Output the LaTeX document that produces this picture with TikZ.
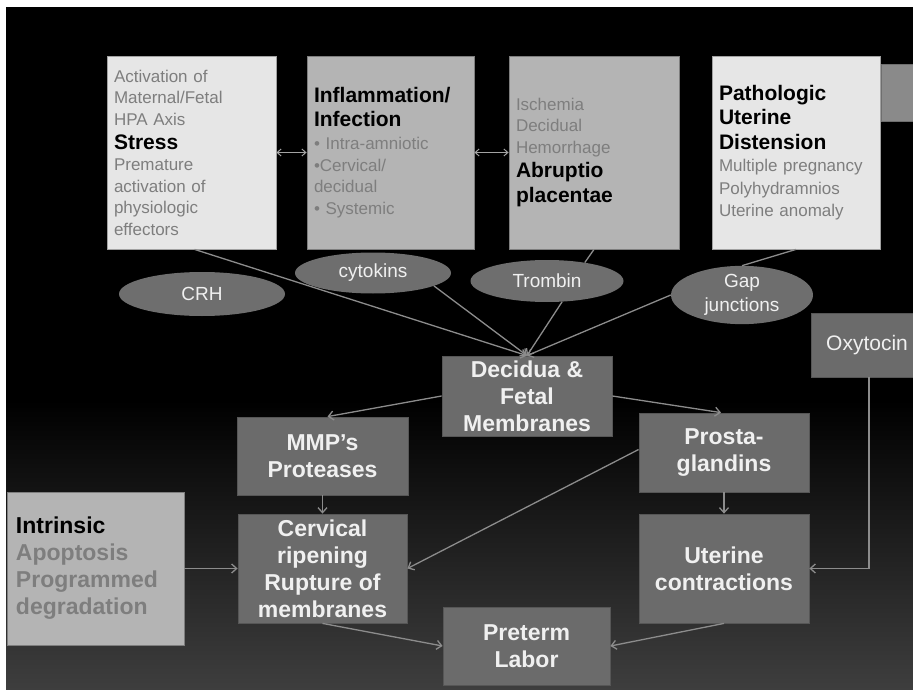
\documentclass[tikz,border=0pt]{standalone}
\usepackage{fontspec}
\setmainfont{Liberation Sans}
\usetikzlibrary{shapes.geometric,arrows.meta}
\definecolor{lightfill}{HTML}{E6E6E6}
\definecolor{midfill}{HTML}{B4B4B4}
\definecolor{darkfill}{HTML}{6B6B6B}
\definecolor{ellfill}{HTML}{6E6E6E}
\definecolor{sidefill}{HTML}{8A8A8A}
\definecolor{tgray}{HTML}{7E7E7E}
\definecolor{wtext}{HTML}{F0F0F0}
\definecolor{linecol}{HTML}{8C8C8C}
\definecolor{bottomgray}{HTML}{3E3E3E}
\newcommand{\fsz}[2]{\fontsize{#1}{#2}\selectfont}
\newcommand{\hd}[1]{{\fsz{21}{21.5}\bfseries\color{black}#1}}
\begin{document}
\begin{tikzpicture}[x=1pt,y=-1pt,
  topbox/.style={rectangle, draw=#1!70!black, line width=0.8pt, fill=#1, inner xsep=7pt,
    minimum height=193pt, align=left, text=tgray, font=\fsz{17}{21.5}},
  darkbox/.style={rectangle, draw=darkfill!80!black, line width=0.8pt, fill=darkfill,
    text=wtext, align=center, font=\fsz{23}{27}\bfseries},
  ell/.style={ellipse, fill=ellfill, inner sep=0pt, text=wtext, align=center,
    font=\fsz{19}{24}},
  conn/.style={draw=linecol, line width=1.3pt, -{Straight Barb[length=5pt,width=9pt]}},
  plainconn/.style={draw=linecol, line width=1.3pt},
  dconn/.style={draw=linecol!80!white, line width=1pt,
    {Straight Barb[length=4pt,width=7pt]}-{Straight Barb[length=4pt,width=7pt]}}
]
\useasboundingbox (0,0) rectangle (913,690);
\fill[white] (0,0) rectangle (913,690);
\fill[black] (6,7) rectangle (913,690);
\shade[top color=black, bottom color=bottomgray] (6,400) rectangle (913,690);

% top boxes
\node[topbox=lightfill, minimum width=169pt, text width=155pt] (stress) at (191.5,152.5)
  {Activation of\\Maternal/Fetal\\HPA Axis\\[2.5pt]\hd{Stress}\\Premature\\activation of\\physiologic\\effectors};
\node[topbox=midfill, minimum width=167pt, text width=153pt] (infl) at (390.5,152.5)
  {\hd{Inflammation/}\\[2pt]\hd{Infection}\\[2pt]{\textbullet} Intra-amniotic\\{\textbullet}Cervical/\\decidual\\{\textbullet} Systemic};
\node[topbox=midfill, minimum width=170pt, text width=156pt] (abr) at (594,152.5)
  {Ischemia\\Decidual\\Hemorrhage\\[2.5pt]\hd{Abruptio}\\[3.5pt]\hd{placentae}};
\node[topbox=lightfill, minimum width=168pt, text width=154pt] (path) at (796,152.5)
  {\hd{Pathologic}\\[2.5pt]\hd{Uterine}\\[3.5pt]\hd{Distension}\\[0.5pt]Multiple pregnancy\\[1.5pt]Polyhydramnios\\Uterine anomaly};
\node[rectangle, fill=sidefill, draw=sidefill!80!black, line width=0.8pt, anchor=north west,
  minimum width=40pt, minimum height=57pt, inner sep=0pt] (side) at (881,64) {};

% ellipses
\node[ell, minimum width=166pt, minimum height=44pt] (crh) at (202,294) {CRH};
\node[ell, minimum width=156pt, minimum height=41pt] (cyt) at (373,273) {cytokins};
\node[ell, minimum width=153pt, minimum height=42pt] (tromb) at (547,281) {Trombin};
\node[ell, minimum width=142pt, minimum height=45pt] (gap) at (742,295) {Gap\\junctions};

% oxytocin
\node[rectangle, fill=darkfill, draw=darkfill!80!black, line width=0.8pt, text=wtext,
  minimum width=112pt, minimum height=64pt, font=\fsz{21}{24}] (oxy) at (867,345) {Oxytocin};

% middle / lower boxes
\node[darkbox, minimum width=170pt, minimum height=80pt] (dec) at (527,396) {Decidua \&\\Fetal\\Membranes};
\node[darkbox, minimum width=171pt, minimum height=78pt] (mmp) at (322.5,456) {MMP's\\Proteases};
\node[darkbox, minimum width=170pt, minimum height=79pt] (pros) at (724,452.5) {Prosta-\\glandins};
\node[darkbox, minimum width=169pt, minimum height=109pt] (cerv) at (322.5,568.5) {Cervical\\ripening\\Rupture of\\membranes};
\node[darkbox, minimum width=170pt, minimum height=109pt] (uter) at (724,568.5) {Uterine\\contractions};
\node[darkbox, minimum width=167pt, minimum height=78pt] (pre) at (526.5,646) {Preterm\\Labor};
\node[rectangle, fill=midfill, draw=midfill!70!black, line width=0.8pt, minimum width=177pt,
  minimum height=153pt, text width=159pt, inner xsep=9pt, align=left, text=tgray,
  font=\fsz{23}{27}\bfseries] (intr) at (95.5,568.5)
  {{\color{black}Intrinsic}\\Apoptosis\\Programmed\\degradation};

% connectors
\draw[dconn] (stress.east) -- (infl.west);
\draw[dconn] (infl.east) -- (abr.west);
\draw[conn] ([xshift=3pt]stress.south) -- (dec.north);
\draw[conn] (cyt.-12) -- (dec.north);
\draw[plainconn] (abr.south) -- (tromb.26);
\draw[conn] (tromb.-54) -- (dec.north);
\draw[plainconn] (path.south) -- (gap.north);
\draw[conn] (gap.west) -- (dec.north);
\draw[conn] (dec.west) -- ([xshift=5pt]mmp.north);
\draw[conn] (dec.east) -- ([xshift=-3pt]pros.north);
\draw[conn] (mmp.south) -- (cerv.north);
\draw[conn] (pros.south) -- (uter.north);
\draw[conn] ([yshift=3pt]pros.west) -- (cerv.east);
\draw[conn] (intr.east) -- (cerv.west);
\draw[conn] ([xshift=2pt]oxy.south) |- (uter.east);
\draw[conn] (cerv.south) -- (pre.west);
\draw[conn] (uter.south) -- (pre.east);
\end{tikzpicture}
\end{document}
